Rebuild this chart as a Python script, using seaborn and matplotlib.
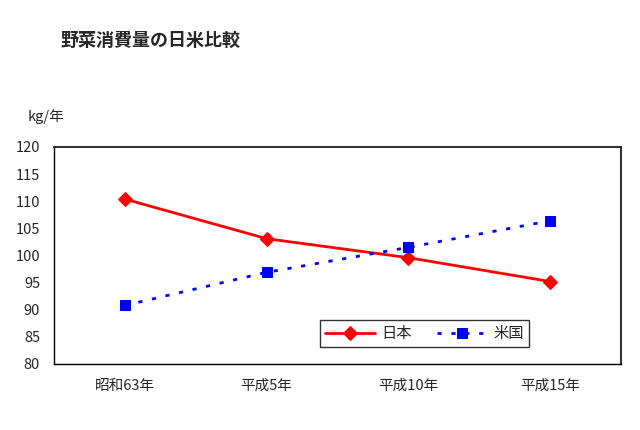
import matplotlib
matplotlib.use("Agg")
import matplotlib.pyplot as plt
import seaborn as sns
import pandas as pd
from matplotlib.ticker import FixedLocator, MultipleLocator

categories = ["昭和63年", "平成5年", "平成10年", "平成15年"]
japan = [110.4, 103.1, 99.6, 95.2]
usa = [90.8, 96.9, 101.5, 106.4]
series_names = ["日本", "米国"]
title = "野菜消費量の日米比較"
unit = "kg/年"

sns.set_style("white")
plt.rcParams['font.family'] = ['Noto Sans CJK JP', 'DejaVu Sans']

fig = plt.figure(figsize=(6.4, 4.3), dpi=100)
ax = fig.add_axes([54/640, 1-364/430, 567/640, 217/430])

pos = list(range(len(categories)))
df_j = pd.DataFrame({"x": pos, "y": japan})
df_u = pd.DataFrame({"x": pos, "y": usa})

sns.lineplot(data=df_j, x="x", y="y", ax=ax, color="#ff0000", marker="D",
             markersize=7, markeredgecolor="#ff0000", linewidth=2, label=series_names[0])
sns.lineplot(data=df_u, x="x", y="y", ax=ax, color="#0000ff", marker="s",
             markersize=7, markeredgecolor="#0000ff", linewidth=2,
             dashes=False, label=series_names[1])
ax.lines[1].set_dashes([1.5, 3.5])

ax.set_xlim(-0.5, 3.5)
ax.set_ylim(80, 120)
ax.yaxis.set_major_locator(MultipleLocator(5))
ax.set_xticks(pos)
ax.set_xticklabels(categories)
ax.xaxis.set_minor_locator(FixedLocator([0.5, 1.5, 2.5]))
ax.tick_params(axis='x', which='major', length=0, labelsize=10.5, pad=11)
ax.tick_params(axis='x', which='minor', length=5, direction='in', width=1, color='black')
ax.tick_params(axis='y', which='major', length=5, direction='in', width=1, color='black', labelsize=10.5, pad=10)
ax.set_xlabel("")
ax.set_ylabel("")
for s in ax.spines.values():
    s.set_color("black")
    s.set_linewidth(1)
ax.spines['top'].set_color('#333333')
ax.spines['right'].set_color('#333333')
ax.spines['top'].set_linewidth(1.5)
ax.spines['right'].set_linewidth(1.5)

leg = ax.legend(loc='lower left', bbox_to_anchor=(0.47, 0.08, 0.367, 0.12), mode='expand',
                ncol=2, frameon=True, fancybox=False, fontsize=11, handlelength=3.3,
                borderpad=0.3, columnspacing=1.5, handletextpad=0.4, borderaxespad=0)
leg.get_frame().set_edgecolor('black')
leg.get_frame().set_linewidth(1)

fig.text(60/640, 1-40/430, title, fontsize=13, fontweight='bold', va='center', ha='left')
fig.text(28/640, 1-117/430, unit, fontsize=10.5, va='center', ha='left')

fig.savefig("out.png", dpi=100, facecolor="white")
